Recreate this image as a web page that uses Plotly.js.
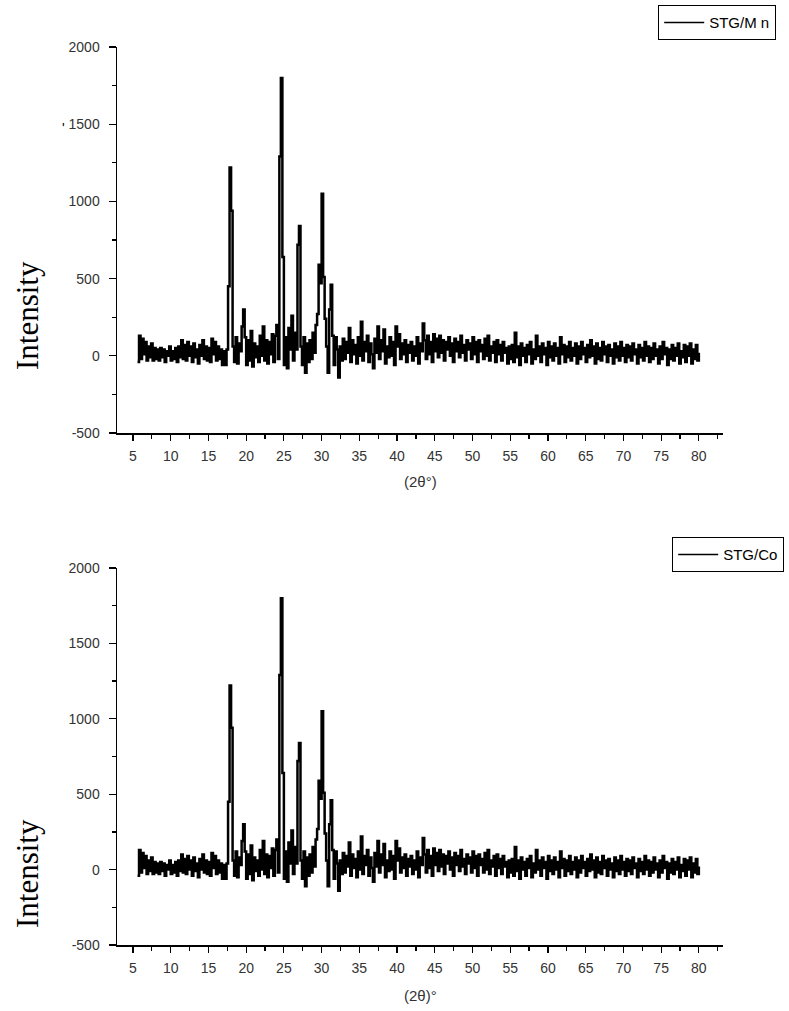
<!DOCTYPE html>
<html>
<head>
<meta charset="utf-8">
<script src="https://cdn.plot.ly/plotly-3.0.1.min.js"></script>
<style>html,body{margin:0;padding:0;background:#fff;}#chart{width:789px;height:1011px;}</style>
</head>
<body>
<div id="chart"></div>
<script>
// 2θ positions (degrees)
const twoTheta = [
5.6,5.8,
6.0,6.2,6.4,6.6,6.8, 7.0,7.2,7.4,7.6,7.8, 8.0,8.2,8.4,8.6,8.8, 9.0,9.2,9.4,9.6,9.8,
10.0,10.2,10.4,10.6,10.8, 11.0,11.2,11.4,11.6,11.8, 12.0,12.2,12.4,12.6,12.8, 13.0,13.2,13.4,13.6,13.8,
14.0,14.2,14.4,14.6,14.8, 15.0,15.2,15.4,15.6,15.8, 16.0,16.2,16.4,16.6,16.8, 17.0,17.2,17.4,17.6,17.8,
18.0,18.2,18.4,18.6,18.8, 19.0,19.2,19.4,19.6,19.8, 20.0,20.2,20.4,20.6,20.8, 21.0,21.2,21.4,21.6,21.8,
22.0,22.2,22.4,22.6,22.8, 23.0,23.2,23.4,23.6,23.8, 24.0,24.2,24.4,24.6,24.8, 25.0,25.2,25.4,25.6,25.8,
26.0,26.2,26.4,26.6,26.8, 27.0,27.2,27.4,27.6,27.8, 28.0,28.2,28.4,28.6,28.8, 29.0,29.2,29.4,29.6,29.8,
30.0,30.2,30.4,30.6,30.8, 31.0,31.2,31.4,31.6,31.8, 32.0,32.2,32.4,32.6,32.8, 33.0,33.2,33.4,33.6,33.8,
34.0,34.2,34.4,34.6,34.8, 35.0,35.2,35.4,35.6,35.8, 36.0,36.2,36.4,36.6,36.8, 37.0,37.2,37.4,37.6,37.8,
38.0,38.2,38.4,38.6,38.8, 39.0,39.2,39.4,39.6,39.8, 40.0,40.2,40.4,40.6,40.8, 41.0,41.2,41.4,41.6,41.8,
42.0,42.2,42.4,42.6,42.8, 43.0,43.2,43.4,43.6,43.8, 44.0,44.2,44.4,44.6,44.8, 45.0,45.2,45.4,45.6,45.8,
46.0,46.2,46.4,46.6,46.8, 47.0,47.2,47.4,47.6,47.8, 48.0,48.2,48.4,48.6,48.8, 49.0,49.2,49.4,49.6,49.8,
50.0,50.2,50.4,50.6,50.8, 51.0,51.2,51.4,51.6,51.8, 52.0,52.2,52.4,52.6,52.8, 53.0,53.2,53.4,53.6,53.8,
54.0,54.2,54.4,54.6,54.8, 55.0,55.2,55.4,55.6,55.8, 56.0,56.2,56.4,56.6,56.8, 57.0,57.2,57.4,57.6,57.8,
58.0,58.2,58.4,58.6,58.8, 59.0,59.2,59.4,59.6,59.8, 60.0,60.2,60.4,60.6,60.8, 61.0,61.2,61.4,61.6,61.8,
62.0,62.2,62.4,62.6,62.8, 63.0,63.2,63.4,63.6,63.8, 64.0,64.2,64.4,64.6,64.8, 65.0,65.2,65.4,65.6,65.8,
66.0,66.2,66.4,66.6,66.8, 67.0,67.2,67.4,67.6,67.8, 68.0,68.2,68.4,68.6,68.8, 69.0,69.2,69.4,69.6,69.8,
70.0,70.2,70.4,70.6,70.8, 71.0,71.2,71.4,71.6,71.8, 72.0,72.2,72.4,72.6,72.8, 73.0,73.2,73.4,73.6,73.8,
74.0,74.2,74.4,74.6,74.8, 75.0,75.2,75.4,75.6,75.8, 76.0,76.2,76.4,76.6,76.8, 77.0,77.2,77.4,77.6,77.8,
78.0,78.2,78.4,78.6,78.8, 79.0,79.2,79.4,79.6,79.8, 80.0
];

// Intensity (same pattern shown in both panels)
const intensity = [
-40,130,
-20,110,10,90,-30, 60,-10,80,-30,50, -20,40,-30,50,-10, 40,-40,30,0,60,
-30,30,-20,50,-40, 60,-10,100,-20,70, -30,90,0,60,-40, 80,-10,40,-50,70,
0,100,-20,60,-30, 50,-40,110,10,90, -30,60,-20,40,-60, 30,-60,40,450,1220,
940,60,-40,120,-50, 80,30,190,300,120, -60,100,-30,160,-70, 80,-10,60,-40,130,
0,190,-30,100,-50, 90,10,140,-40,130, 200,-20,1290,1800,640, -60,120,-80,180,40,
260,-30,150,40,720, 840,60,-60,120,-110, 80,-40,100,-20,150, 20,200,270,590,470,
1050,510,240,60,-110, 300,460,130,-60,120, 40,-140,60,-30,110, -20,90,20,180,-40,
100,10,70,-50,120, 0,220,-30,90,30, 130,-40,80,10,-80, 110,20,190,-20,100,
30,170,-50,60,-10, 120,0,90,-60,190, 60,140,-20,80,10, 100,-40,70,20,90,
-30,60,0,120,-50, 80,30,210,100,-20, 130,10,90,-40,140, 30,110,-10,130,20,
100,-30,90,40,120, 0,80,-40,110,30, 90,-10,130,20,70, -30,100,40,80,-20,
120,10,90,-40,100, 30,70,-20,110,0, 130,-30,60,20,90, -40,100,10,70,-30,
90,20,50,-50,60, -20,70,-40,150,-10, 60,-60,80,0,50, -40,70,10,90,-50,
40,-20,130,0,60, -40,80,10,50,-60, 90,-10,60,-30,80, 0,50,-50,120,10,
70,-40,60,-10,90, -30,50,0,80,-50, 60,-20,90,10,50, -40,70,-10,100,0,
60,-50,80,-20,50, -30,90,10,60,-40, 70,0,40,-50,80, -10,60,-30,90,0,
50,-40,70,-10,60, -30,80,10,40,-50, 70,-10,50,-30,90, 0,60,-40,50,-20,
80,0,40,-50,60, -20,90,10,50,-60, 40,-20,70,-30,50, 0,80,-50,30,-10,
70,-40,60,0,80, -50,40,-20,70,-30, 20
];

const seriesNames = ["STG/M n", "STG/Co"];
const xTitles = ["(2θ°)", "(2θ)°"];
const yTitle = "Intensity";
const xTickVals = [5,10,15,20,25,30,35,40,45,50,55,60,65,70,75,80];
const yTickVals = [-500,0,500,1000,1500,2000];

const W = 789, H = 1011;
const px = v => v / W, py = v => 1 - v / H;

const tickFont = {family: "Liberation Sans, Arial, sans-serif", size: 14, color: "#333"};

function xAxis(anchor) {
  return {
    domain: [px(117), px(723)], range: [2.88, 83.2], anchor: anchor,
    showline: true, linecolor: "#000", linewidth: 1.5, mirror: false,
    showgrid: false, zeroline: false,
    tickmode: "array", tickvals: xTickVals, ticktext: xTickVals.map(String),
    ticks: "outside", ticklen: 6, tickwidth: 1.2, tickcolor: "#000",
    minor: {dtick: 2.5, tick0: 2.5, ticks: "outside", ticklen: 4, tickwidth: 1.2, tickcolor: "#000", showgrid: false},
    tickfont: tickFont, ticklabelstandoff: 4
  };
}
function yAxis(anchor, top, bottom) {
  return {
    domain: [py(bottom), py(top)], range: [-500, 2000], anchor: anchor,
    showline: true, linecolor: "#000", linewidth: 1.5, mirror: false,
    showgrid: false, zeroline: false,
    tickmode: "array", tickvals: yTickVals, ticktext: yTickVals.map(String),
    ticks: "outside", ticklen: 7, tickwidth: 1.2, tickcolor: "#000",
    minor: {dtick: 250, tick0: 0, ticks: "outside", ticklen: 4, tickwidth: 1.2, tickcolor: "#000", showgrid: false},
    tickfont: tickFont, ticklabelstandoff: 6
  };
}

const lineStyle = {color: "#000", width: 2.5, shape: "hv"};
const legendLine = {color: "#000", width: 1.5};
const traces = [
  {x: twoTheta, y: intensity, type: "scatter", mode: "lines", name: seriesNames[0],
   line: lineStyle, xaxis: "x", yaxis: "y", showlegend: false},
  {x: twoTheta, y: intensity, type: "scatter", mode: "lines", name: seriesNames[1],
   line: lineStyle, xaxis: "x2", yaxis: "y2", showlegend: false},
  // legend entries (thin line sample as in the reference)
  {x: [null], y: [null], type: "scatter", mode: "lines", name: seriesNames[0],
   line: legendLine, xaxis: "x", yaxis: "y", legend: "legend", showlegend: true},
  {x: [null], y: [null], type: "scatter", mode: "lines", name: seriesNames[1],
   line: legendLine, xaxis: "x2", yaxis: "y2", legend: "legend2", showlegend: true}
];

const legendFont = {family: "Liberation Sans, Arial, sans-serif", size: 15, color: "#000"};
const layout = {
  width: W, height: H,
  margin: {l: 0, r: 0, t: 0, b: 0},
  paper_bgcolor: "#fff", plot_bgcolor: "#fff",
  showlegend: true,
  xaxis: xAxis("y"),
  yaxis: yAxis("x", 47, 433),
  xaxis2: xAxis("y2"),
  yaxis2: yAxis("x2", 568, 945),
  legend: {x: px(776), y: py(5), xanchor: "right", yanchor: "top",
    bordercolor: "#000", borderwidth: 1.2, bgcolor: "#fff", font: legendFont,
    itemwidth: 40, tracegroupgap: 0},
  legend2: {x: px(784), y: py(537), xanchor: "right", yanchor: "top",
    bordercolor: "#000", borderwidth: 1.2, bgcolor: "#fff", font: legendFont,
    itemwidth: 40, tracegroupgap: 0},
  annotations: [
    {text: xTitles[0], xref: "paper", yref: "paper", x: px(420), y: py(482),
     xanchor: "center", yanchor: "middle", showarrow: false,
     font: {family: "Liberation Sans, Arial, sans-serif", size: 15, color: "#333"}},
    {text: xTitles[1], xref: "paper", yref: "paper", x: px(420), y: py(995),
     xanchor: "center", yanchor: "middle", showarrow: false,
     font: {family: "Liberation Sans, Arial, sans-serif", size: 15, color: "#333"}},
    {text: yTitle, xref: "paper", yref: "paper", x: px(27), y: py(316),
     xanchor: "center", yanchor: "middle", showarrow: false, textangle: -90,
     font: {family: "Liberation Serif, Times New Roman, serif", size: 31, color: "#000"}},
    {text: yTitle, xref: "paper", yref: "paper", x: px(27), y: py(874),
     xanchor: "center", yanchor: "middle", showarrow: false, textangle: -90,
     font: {family: "Liberation Serif, Times New Roman, serif", size: 31, color: "#000"}},
    {text: "'", xref: "paper", yref: "paper", x: px(63), y: py(128),
     xanchor: "center", yanchor: "middle", showarrow: false,
     font: {family: "Liberation Sans, Arial, sans-serif", size: 14, color: "#000"}}
  ]
};

Plotly.newPlot("chart", traces, layout, {displayModeBar: false, staticPlot: true});
</script>
</body>
</html>
